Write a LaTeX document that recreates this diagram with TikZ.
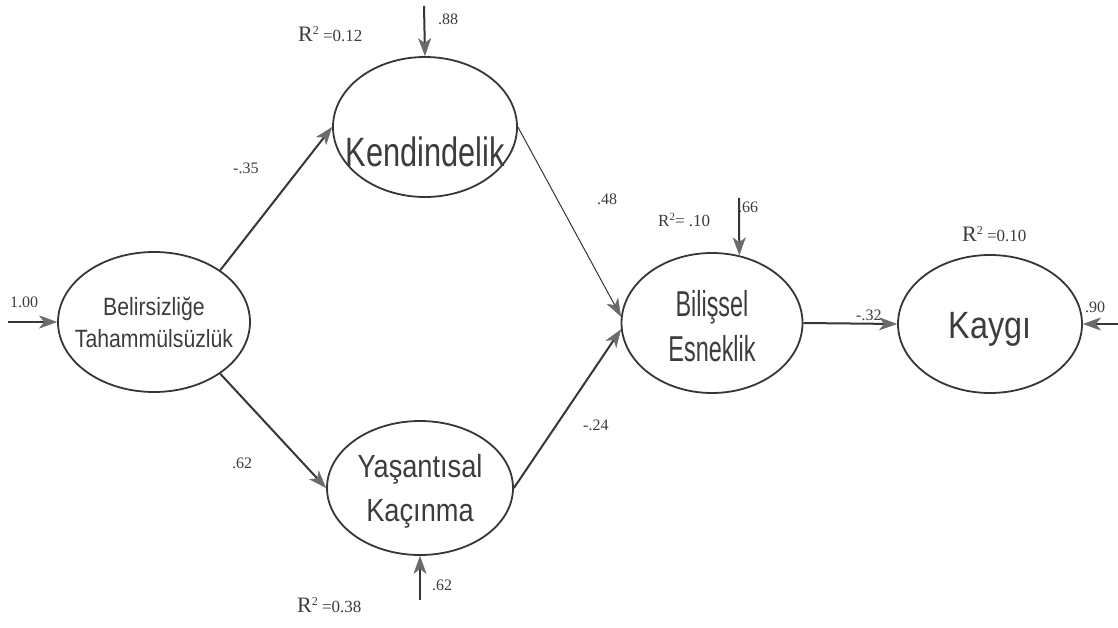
\documentclass[tikz,border=0pt]{standalone}
\usepackage{fontspec}
\setmainfont{Liberation Serif}
\newfontfamily\varfontA{Liberation Sans}[FakeStretch=0.85]
\newfontfamily\varfontB{Liberation Sans}[FakeStretch=0.75]
\newfontfamily\varfontC{Liberation Sans}[FakeStretch=0.65]
\usepackage{xcolor}
\usepackage{tikz}
\usetikzlibrary{positioning,arrows.meta,shapes.geometric}

\definecolor{linecol}{HTML}{3A3434}
\definecolor{tipcol}{HTML}{6B6B6B}
\definecolor{txtcol}{HTML}{3C3C3C}

\newcommand{\rbig}{{\fontsize{22}{22}\selectfont R}\raisebox{7pt}{\fontsize{12}{12}\selectfont 2}}

\begin{document}
\begin{tikzpicture}[
    x=1pt, y=-1pt,
    latent/.style={
        draw=linecol,
        line width=1.8pt,
        ellipse,
        inner sep=0pt
    },
    vartext/.style={text=txtcol, align=center, inner sep=0pt},
    coef/.style={text=txtcol, inner sep=0pt, anchor=base west, font=\fontsize{16}{16}\selectfont},
    effect/.style={draw=linecol, line width=2pt,
        -{Stealth[length=18pt,width=13pt,inset=5pt,line width=0.4pt,fill=tipcol,color=tipcol]}}
]
\useasboundingbox (0,0) rectangle (1118,628);

\node[latent, minimum width=192pt, minimum height=140pt,
    label={[vartext, font=\varfontA\fontsize{25}{32}\selectfont]center:{Belirsizliğe\\Tahammülsüzlük}}] (bel) at (154,322) {};

\node[latent, minimum width=184pt, minimum height=140pt,
    label={[vartext, yshift=-25pt, font=\varfontB\fontsize{41}{50}\selectfont]center:Kendindelik}] (kend) at (425,127) {};

\node[latent, minimum width=186pt, minimum height=134pt,
    label={[vartext, yshift=-3.5pt, font=\varfontA\fontsize{32}{44}\selectfont]center:{Yaşantısal\\Kaçınma}}] (yas) at (420,488) {};

\node[latent, minimum width=181pt, minimum height=140pt,
    label={[vartext, yshift=-3.5pt, font=\varfontC\fontsize{36}{45}\selectfont]center:{Bilişsel\\Esneklik}}] (bil) at (712,323) {};

\node[latent, minimum width=184pt, minimum height=138pt,
    label={[vartext, yshift=-5pt, font=\varfontA\fontsize{38}{46}\selectfont]center:Kaygı}] (kay) at (990,324) {};

\coordinate (ebel) at (8,322);
\coordinate (ekend) at (424,6);
\coordinate (eyas) at (420,600);
\coordinate (ebil) at (739,198);
\coordinate (ekay) at (1118,324);

\draw[effect] (ebel) -- (bel.west);
\draw[effect] (bel.38) -- (kend.west);
\draw[effect] (bel.-38) -- (yas.west);
\draw[effect, line width=1pt] (kend.east) -- (bil.176);
\draw[effect] (yas.east) -- (bil.184);
\draw[effect] (bil.east) -- (kay.west);
\draw[effect] (ekend) -- (kend.north);
\draw[effect] (eyas) -- (yas.south);
\draw[effect] (ebil) -- (bil.68);
\draw[effect] (ekay) -- (kay.east);

\node[coef] (cbel) at (10,307) {1.00};
\node[coef] (cbk) at (233,174) {-.35};
\node[coef] (cby) at (232,468) {.62};
\node[coef] (ckb) at (597,205) {.48};
\node[coef] (cyb) at (583,430) {-.24};
\node[coef] (cbka) at (856,320) {-.32};
\node[coef] (ckay) at (1085,312) {.90};
\node[coef] (ckend) at (438,25) {.88};
\node[coef] (cbil) at (738,213) {.66};
\node[coef] (cyas) at (432,590) {.62};

\node[coef, font=\fontsize{17}{17}\selectfont] (rkend) at (298,42) {\rbig\ =0.12};
\node[coef, font=\fontsize{17}{17}\selectfont] (ryas) at (297,612) {\rbig\ =0.38};
\node[coef, font=\fontsize{17}{17}\selectfont] (rbil) at (658,227) {R\raisebox{6pt}{\fontsize{11}{11}\selectfont 2}= .10};
\node[coef, font=\fontsize{17}{17}\selectfont] (rkay) at (962,242) {\rbig\ =0.10};

\end{tikzpicture}
\end{document}
